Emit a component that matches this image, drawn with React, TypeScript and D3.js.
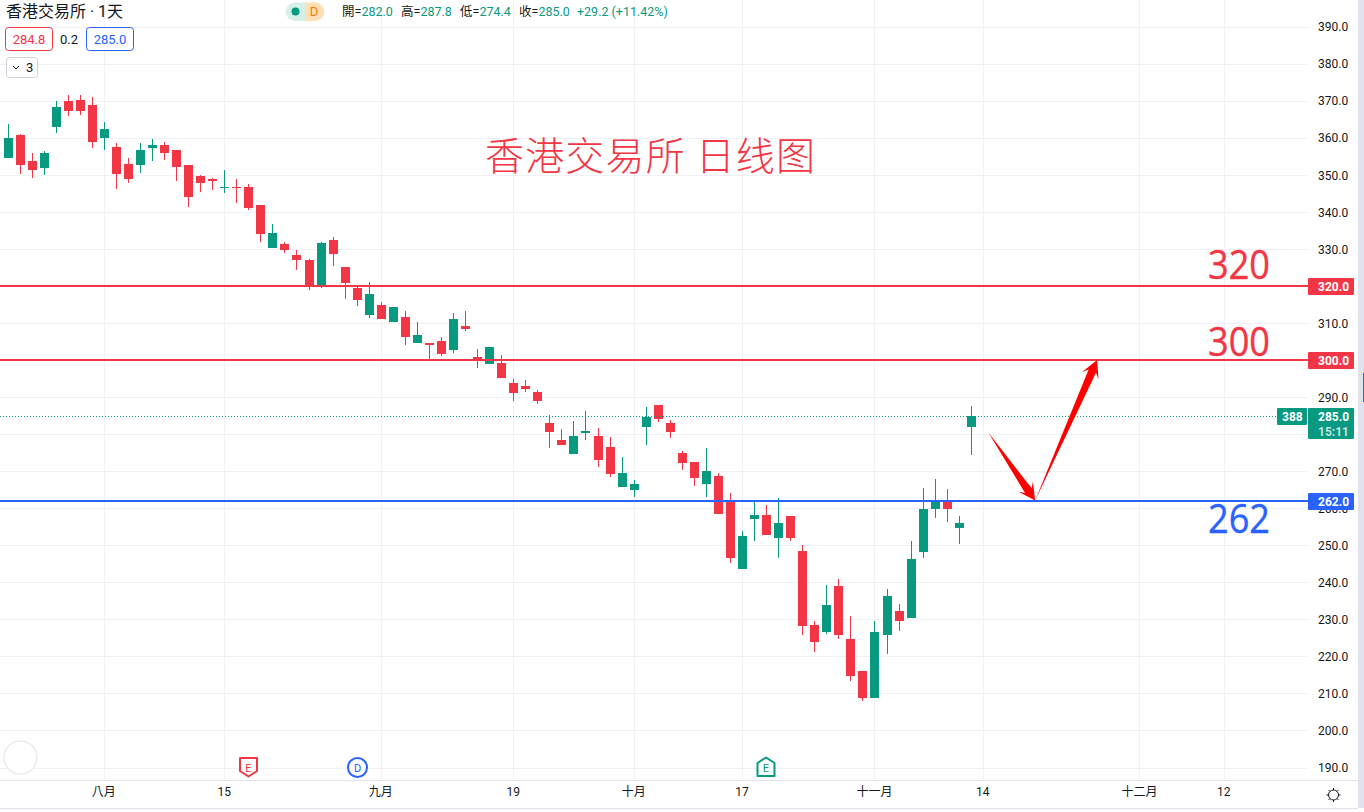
import React, { useRef, useEffect } from "react";
import * as d3 from "d3";

const highs = [363.8,361.1,356,356.5,370,371.7,371.7,371.1,364.4,358.7,354.6,358.7,359.8,359,356.8,352.8,350,349.2,351.4,349,347.6,342,336.8,332,329.8,327.4,332,333.3,325.2,319.8,321.2,315.8,314.4,313.3,310.4,304.7,306.3,312.8,313.3,303.1,303.6,301.5,295,294.7,292,285.3,281.5,283.7,286.4,281.8,279.3,273.9,267.7,287.4,288,284,275.6,272.6,276.4,269.5,264.1,253.9,261.7,260.9,262.8,257.9,250.1,229.6,239.3,240.9,230.9,216.1,229.8,238.2,234.2,251.4,265.7,267.9,265.2,257.9,287.8];
const lows = [354.6,350.3,349.2,350.1,361.4,366,366.3,357.3,356.8,346.3,347.9,350.6,353.8,354.1,348.4,341.4,345.5,346,345.2,342.5,340.6,332,330.3,329,324.4,319,319.6,325.5,316.6,314.7,311.5,311.2,310.4,304.2,304.7,300.1,301.2,302,308,298,299,295.3,289.1,291.5,288.2,276.4,277.2,274.8,278.5,271.2,268.5,265.8,263.1,277.2,283.4,279.1,270.4,266.1,263.1,258.5,245.2,243.6,251.4,252.8,246.8,251.2,225.8,221.2,226.1,224.7,213.6,208.2,209,220.7,227.1,230.4,246.8,257.6,256.3,250.4,274.4];
const opens = [354.6,360.9,353.8,351.9,363,370,370.3,369,360,357.6,353,352.8,357.3,358.2,356.8,352.8,349.8,349,346.5,346.8,346.8,342,330.3,331.4,328.5,327.1,320.1,332.5,325.2,319.5,312.3,315,310.4,311.7,304.7,304.7,305.2,302.8,309.3,300.9,299,299.3,293.9,293.1,291.5,283.1,278.5,274.8,280.4,279.6,276.6,265.8,265,282,288,283.1,275,272.6,266.6,268.7,262,243.6,257.1,258.2,252.2,257.9,248.7,228.5,226.6,239,224.7,216.1,209,225.8,232.3,230.4,248.2,259.8,261.7,254.7,282];
const closes = [360,352.8,351.4,356,368.4,367.3,367.3,359,362.5,350.3,349,356.8,358.2,356,352.2,344.1,347.9,348.4,346.8,346.5,341.2,334.1,334.4,329.8,327.1,320.1,331.7,328.7,320.9,316.3,317.9,311.2,314.4,306.3,306.9,304.2,301.7,311.2,308.5,300.1,303.6,295.3,291.2,292.3,289.1,280.7,277.2,279.6,281,273.1,269.4,269.6,266.6,284.7,284.2,280.7,272.3,268.3,270.2,258.5,246.6,252.5,258.2,252.8,256,252,228.2,223.9,233.9,225.8,214.7,208.8,226.6,236.3,229.6,246.3,259.8,261.7,259.8,256,285];

const priceTicks = d3.range(190, 400, 10);
const timeTickIdx = [8, 18, 31, 42, 52, 61, 72, 81, 94, 101];
const timeTickLabels = ["八月", "15", "九月", "19", "十月", "17", "十一月", "14", "十二月", "12"];

const levels = [320, 300, 262];
const levelColors = ["#f23645", "#f23645", "#2962ff"];
const levelLabels = ["320", "300", "262"];
const lastPrice = 285;

const arrowIdx = [81.4, 85.3, 90.45];
const arrowPrice = [280.6, 262.2, 300.1];

const RED = "#f23645";
const GREEN = "#089981";
const BLUE = "#2962ff";
const TEXT = "#131722";
const UI_FONT = "Roboto, 'Noto Sans CJK TC', sans-serif";
const CJK_FONT = "'Noto Sans CJK SC', sans-serif";

export default function App() {
    const svgRef = useRef<SVGSVGElement>(null);

    useEffect(() => {
        if (!svgRef.current) return;
        const svg = d3.select(svgRef.current);
        svg.selectAll("*").remove();

        const plotRight = 1308;
        const plotBottom = 780;

        const x = d3.scaleLinear().domain([0, 80]).range([8, 971.32]);
        const y = d3.scaleLinear().domain([190, 390]).range([768, 27]);
        const px = (i: number) => Math.floor(x(i)) + 0.5;
        const py = (v: number) => Math.floor(y(v)) + 0.5;

        svg.append("rect").attr("width", 1364).attr("height", 812).attr("fill", "#fff");

        // Grid
        const grid = svg.append("g").attr("stroke", "#f0f1f4").attr("stroke-width", 1);
        grid.selectAll("line.h").data(priceTicks).join("line")
            .attr("x1", 0).attr("x2", plotRight)
            .attr("y1", d => py(d)).attr("y2", d => py(d));
        grid.selectAll("line.v").data(timeTickIdx).join("line")
            .attr("x1", d => px(d)).attr("x2", d => px(d))
            .attr("y1", 0).attr("y2", plotBottom);

        // Candles
        const idx = d3.range(opens.length);
        const color = (i: number) => (closes[i] >= opens[i] ? GREEN : RED);
        const candles = svg.append("g").attr("shape-rendering", "crispEdges");
        candles.selectAll("line").data(idx).join("line")
            .attr("x1", px).attr("x2", px)
            .attr("y1", i => y(highs[i])).attr("y2", i => y(lows[i]))
            .attr("stroke", color).attr("stroke-width", 1);
        candles.selectAll("rect").data(idx).join("rect")
            .attr("x", i => px(i) - 4.5)
            .attr("width", 9)
            .attr("y", i => y(Math.max(opens[i], closes[i])))
            .attr("height", i => Math.max(1, Math.abs(y(opens[i]) - y(closes[i]))))
            .attr("fill", color);

        // Last price line
        svg.append("line")
            .attr("x1", 0).attr("x2", 1277)
            .attr("y1", py(lastPrice)).attr("y2", py(lastPrice))
            .attr("stroke", GREEN).attr("stroke-dasharray", "1 2");

        // Horizontal levels
        svg.append("g").selectAll("line").data(levels).join("line")
            .attr("x1", 0).attr("x2", plotRight)
            .attr("y1", d => Math.round(y(d))).attr("y2", d => Math.round(y(d)))
            .attr("stroke", (_, i) => levelColors[i]).attr("stroke-width", 2);

        // Level annotations
        svg.append("g").selectAll("text").data(levels).join("text")
            .text((_, i) => levelLabels[i])
            .attr("x", 1208)
            .attr("y", d => y(d) + (d === 262 ? 32 : d === 320 ? -7 : -4))
            .attr("fill", (_, i) => levelColors[i])
            .attr("stroke", (_, i) => levelColors[i])
            .attr("stroke-width", 0.4)
            .attr("font-family", "'Open Sans', sans-serif")
            .attr("font-size", 40)
            .attr("textLength", 62)
            .attr("lengthAdjust", "spacingAndGlyphs");

        svg.append("text")
            .text("香港交易所 日线图")
            .attr("x", 485).attr("y", 170)
            .attr("fill", RED)
            .attr("font-family", CJK_FONT)
            .attr("font-size", 39)
            .attr("font-weight", 300)
            .attr("textLength", 330)
            .attr("lengthAdjust", "spacing");

        // Hand drawn arrows
        const arrowPoints = idx.slice(0, 2).map(i => {
            const x0 = x(arrowIdx[i]), y0 = y(arrowPrice[i]);
            const x1 = x(arrowIdx[i + 1]), y1 = y(arrowPrice[i + 1]);
            const len = Math.hypot(x1 - x0, y1 - y0);
            const ux = (x1 - x0) / len, uy = (y1 - y0) / len;
            const at = (along: number, side: number): [number, number] => [
                x0 + ux * along - uy * side,
                y0 + uy * along + ux * side,
            ];
            return [
                at(0, 0), at(len - 12, 4), at(len - 17, 9), at(len, 0),
                at(len - 17, -9), at(len - 12, -4),
            ] as [number, number][];
        });
        const arrowPath = d3.line().curve(d3.curveLinearClosed);
        svg.append("g").selectAll("path").data(arrowPoints).join("path")
            .attr("d", d => arrowPath(d))
            .attr("fill", "#ff0000");

        // Price axis
        const yAxis = svg.append("g")
            .attr("transform", `translate(${plotRight},0)`)
            .call(d3.axisRight(y).tickValues(priceTicks).tickSize(0).tickPadding(10).tickFormat(d => (d as number).toFixed(1)));
        yAxis.select(".domain").remove();
        yAxis.selectAll("text").attr("font-family", UI_FONT).attr("font-size", 12).attr("fill", TEXT);

        // Time axis
        svg.append("rect").attr("x", 0).attr("y", plotBottom).attr("width", 1358).attr("height", 32).attr("fill", "#fff");
        svg.append("line").attr("x1", 0).attr("x2", 1358).attr("y1", plotBottom + 0.5).attr("y2", plotBottom + 0.5).attr("stroke", "#e0e3eb");
        svg.append("line").attr("x1", 0).attr("x2", 1358).attr("y1", 808.5).attr("y2", 808.5).attr("stroke", "#e0e3eb");
        const xAxis = svg.append("g")
            .attr("transform", `translate(-1,${plotBottom})`)
            .call(d3.axisBottom(x).tickValues(timeTickIdx).tickSize(0).tickPadding(7).tickFormat((_, i) => timeTickLabels[i]));
        xAxis.select(".domain").remove();
        xAxis.selectAll("text").attr("font-family", UI_FONT).attr("font-size", 12).attr("fill", TEXT);

        // Right edge of the widget
        svg.append("rect").attr("x", 1358).attr("y", 0).attr("width", 6).attr("height", 808).attr("fill", "#e0e3eb");
        svg.append("rect").attr("x", 1363).attr("y", 373).attr("width", 1).attr("height", 29).attr("fill", BLUE);

        // Price tags
        const tags = svg.append("g").attr("font-family", UI_FONT).attr("font-size", 12).attr("font-weight", 700).attr("fill", "#fff");
        levels.forEach((d, i) => {
            const cy = Math.round(y(d));
            tags.append("rect").attr("x", plotRight).attr("y", cy - 8).attr("width", 46).attr("height", 17).attr("rx", 1).attr("fill", levelColors[i]);
            tags.append("text").text(d.toFixed(1)).attr("x", plotRight + 10).attr("y", cy + 5);
        });
        const lastY = py(lastPrice);
        tags.append("rect").attr("x", 1277).attr("y", lastY - 8.5).attr("width", 30).attr("height", 17).attr("rx", 1).attr("fill", GREEN);
        tags.append("text").text("388").attr("x", 1282).attr("y", lastY + 4.5);
        tags.append("rect").attr("x", plotRight).attr("y", lastY - 8.5).attr("width", 46).attr("height", 31).attr("rx", 1).attr("fill", GREEN);
        tags.append("text").text(lastPrice.toFixed(1)).attr("x", plotRight + 10).attr("y", lastY + 4.5);
        tags.append("text").text("15:11").attr("x", plotRight + 10).attr("y", lastY + 19).attr("fill-opacity", 0.75);

        // Event markers
        const markers = svg.append("g").attr("fill", "#fff").attr("stroke-width", 2).attr("stroke-linejoin", "round");
        const markerText = (cx: number, cy: number, t: string, c: string) =>
            svg.append("text").text(t).attr("x", cx).attr("y", cy).attr("text-anchor", "middle")
                .attr("font-family", UI_FONT).attr("font-size", 11).attr("fill", c);
        const ex = px(20);
        markers.append("path").attr("stroke", RED)
            .attr("d", d3.line()([[ex - 8.5, 758], [ex + 8.5, 758], [ex + 8.5, 771], [ex, 776.5], [ex - 8.5, 771]]) + "Z");
        markerText(ex, 771.5, "E", RED);
        const dx = px(29);
        markers.append("circle").attr("cx", dx).attr("cy", 767.5).attr("r", 9.5).attr("stroke", BLUE);
        markerText(dx, 771.5, "D", BLUE);
        const gx = px(63) - 0.5;
        markers.append("path").attr("stroke", GREEN)
            .attr("d", d3.line()([[gx, 757.5], [gx + 8.5, 763], [gx + 8.5, 776], [gx - 8.5, 776], [gx - 8.5, 763]]) + "Z");
        markerText(gx, 771.5, "E", GREEN);
        svg.append("circle").attr("cx", 20.5).attr("cy", 757.5).attr("r", 16.5).attr("fill", "#fff").attr("stroke", "#ececee").attr("stroke-width", 1.5);

        // Gear
        const gear = svg.append("g").attr("transform", "translate(1333.5,795)").attr("stroke", TEXT).attr("fill", "none");
        gear.append("circle").attr("r", 5);
        gear.selectAll("line").data(d3.range(8)).join("line")
            .attr("x1", d => Math.cos(d * Math.PI / 4) * 5)
            .attr("y1", d => Math.sin(d * Math.PI / 4) * 5)
            .attr("x2", d => Math.cos(d * Math.PI / 4) * 7)
            .attr("y2", d => Math.sin(d * Math.PI / 4) * 7);

        // Header legend
        const head = svg.append("g").attr("font-family", UI_FONT).attr("font-size", 13);
        head.append("text").text("香港交易所 · 1天").attr("x", 6).attr("y", 17).attr("font-size", 16).attr("fill", TEXT);
        head.append("path").attr("d", "M295,2.5H305V21H295A9.25,9.25 0 0 1 295,2.5Z").attr("fill", "#d5efe9");
        head.append("path").attr("d", "M305,2.5H315A9.25,9.25 0 0 1 315,21H305Z").attr("fill", "#ffdfb5");
        head.append("circle").attr("cx", 295.5).attr("cy", 11.5).attr("r", 4).attr("fill", GREEN);
        head.append("text").text("D").attr("x", 314).attr("y", 16).attr("text-anchor", "middle").attr("fill", "#f57c00");
        const ohlcKeys = ["開", "高", "低", "收"];
        const ohlcVals = ["282.0", "287.8", "274.4", "285.0"];
        const ohlcX = [342, 401, 460, 519];
        ohlcKeys.forEach((k, i) => {
            const t = head.append("text").attr("x", ohlcX[i]).attr("y", 16).attr("font-size", 12.5);
            t.append("tspan").text(k + "=").attr("fill", TEXT);
            t.append("tspan").text(ohlcVals[i]).attr("fill", GREEN);
        });
        head.append("text").text("+29.2 (+11.42%)").attr("x", 577).attr("y", 16).attr("font-size", 12.5).attr("fill", GREEN);

        const box = (bx: number, by: number, w: number, h: number, c: string) =>
            head.append("rect").attr("x", bx).attr("y", by).attr("width", w).attr("height", h)
                .attr("rx", 3).attr("fill", "#fff").attr("stroke", c);
        box(5.5, 27.5, 47, 23, RED);
        head.append("text").text("284.8").attr("x", 29).attr("y", 44).attr("text-anchor", "middle").attr("fill", RED);
        head.append("text").text("0.2").attr("x", 69).attr("y", 43.5).attr("text-anchor", "middle").attr("fill", TEXT);
        box(86.5, 27.5, 47, 23, BLUE);
        head.append("text").text("285.0").attr("x", 110).attr("y", 44).attr("text-anchor", "middle").attr("fill", BLUE);
        box(6.5, 57.5, 31, 20, "#d1d4dc");
        head.append("path").attr("d", "M13,66l3,3l3,-3").attr("fill", "none").attr("stroke", TEXT);
        head.append("text").text("3").attr("x", 26).attr("y", 72).attr("fill", TEXT);
    }, []);

    return (
        <svg
            ref={svgRef}
            width={1364}
            height={812}
            style={{ position: "absolute", left: 0, top: 0, display: "block" }}
        />
    );
}
